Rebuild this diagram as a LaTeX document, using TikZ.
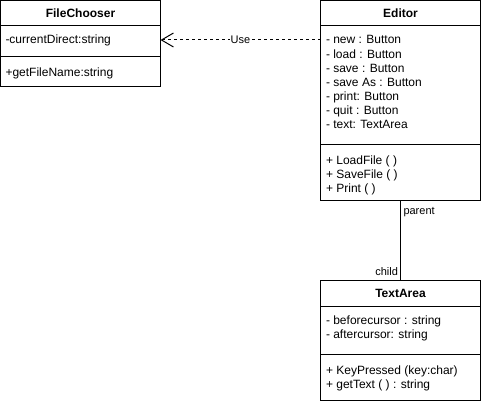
\documentclass[tikz,border=0pt]{standalone}
\usepackage{fontspec}
\setmainfont{Liberation Sans}
\usetikzlibrary{arrows.meta}
\begin{document}
\begin{tikzpicture}[x=1pt,y=-1pt,line width=1pt,
  comp/.style={draw, rectangle, inner sep=0pt, outer sep=0pt, minimum width=160pt, anchor=north west},
  ttl/.style={font=\fontsize{12}{14}\selectfont\bfseries},
  txt/.style={inner sep=0pt, anchor=base west, font=\fontsize{12}{14}\selectfont},
  lbl/.style={inner sep=0pt, font=\fontsize{11}{13}\selectfont}]
\useasboundingbox (0,0) rectangle (481,404);
% FileChooser
\node[comp, ttl, minimum height=25.5pt] (fct) at (0.5,0.5) {FileChooser};
\node[comp, minimum height=30pt] (fca) at (0.5,26) {};
\node[comp, minimum height=30pt] (fcm) at (0.5,56) {};
\node[txt] (fca1) at (5,44) {-currentDirect:string};
\node[txt] (fcm1) at (5,76) {+getFileName:string};
% Editor
\node[comp, ttl, minimum height=25.5pt] (edt) at (320.5,0.5) {Editor};
\node[comp, minimum height=118pt] (eda) at (320.5,26) {};
\node[comp, minimum height=56pt] (edm) at (320.5,144) {};
\foreach \t [count=\i] in {- new : Button,- load : Button,- save : Button,- save As : Button,- print: Button,- quit : Button,- text: TextArea}
  \node[txt] (eda\i) at (325.5,{30+14*\i}) {\t};
\foreach \t [count=\i] in {+ LoadFile ( ),+ SaveFile ( ),+ Print ( )}
  \node[txt] (edm\i) at (325.5,{150+14*\i}) {\t};
% TextArea
\node[comp, ttl, minimum height=26pt] (tat) at (320.5,280) {TextArea};
\node[comp, minimum height=48pt] (taa) at (320.5,306) {};
\node[comp, minimum height=46pt] (tam) at (320.5,354) {};
\node[txt] (taa1) at (325.5,324) {- beforecursor : string};
\node[txt] (taa2) at (325.5,338) {- aftercursor: string};
\node[txt] (tam1) at (325.5,374) {+ KeyPressed (key:char)};
\node[txt] (tam2) at (325.5,388) {+ getText ( ) : string};
% connectors
\coordinate (usey) at (0,40);
\draw[dash pattern=on 3pt off 3pt, -{Straight Barb[length=12pt,width=14pt]}]
  (eda.west |- usey) -- node[lbl, fill=white, inner sep=1pt] (uselbl) {Use} (fca.east |- usey);
\draw (edm.south) -- (tat.north);
\node[lbl, anchor=west] (parentlbl) at (403,212) {parent};
\node[lbl, anchor=east] (childlbl) at (398.5,272) {child};
\end{tikzpicture}
\end{document}
